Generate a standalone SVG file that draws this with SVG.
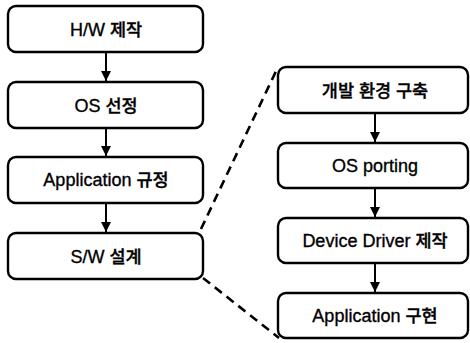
<svg xmlns="http://www.w3.org/2000/svg" width="470" height="343" viewBox="0 0 470 343">
<defs>
<style>
.box{fill:#fff;stroke:#000;stroke-width:2.4}
.lbl{font-family:"Liberation Sans","Noto Sans CJK KR",sans-serif;font-size:18px;fill:#000;stroke:#000;stroke-width:0.35;text-anchor:middle}
.ko{font-size:17.5px;font-weight:500}
.arr{stroke:#000;stroke-width:2;fill:none}
.dash{stroke:#000;stroke-width:2.6;fill:none;stroke-dasharray:9 6}
</style>
<marker id="ah" viewBox="0 0 10 10" refX="10" refY="5" markerWidth="10" markerHeight="10" markerUnits="userSpaceOnUse" orient="auto">
<path d="M0,0 L10,5 L0,10 z" fill="#000"/>
</marker>
</defs>
<rect width="470" height="343" fill="#fff"/>
<g id="connectors">
<line class="arr" x1="106" y1="53" x2="106" y2="81" marker-end="url(#ah)"/>
<line class="arr" x1="106" y1="129" x2="106" y2="156" marker-end="url(#ah)"/>
<line class="arr" x1="106" y1="204" x2="106" y2="232" marker-end="url(#ah)"/>
<line class="arr" x1="375" y1="114" x2="375" y2="142" marker-end="url(#ah)"/>
<line class="arr" x1="375" y1="189" x2="375" y2="217" marker-end="url(#ah)"/>
<line class="arr" x1="375" y1="264" x2="375" y2="292" marker-end="url(#ah)"/>
<line class="dash" x1="201" y1="229" x2="278" y2="67"/>
<line class="dash" x1="203" y1="278" x2="279" y2="338"/>
</g>
<g id="n1"><rect class="box" x="8" y="6" width="195" height="46" rx="8"/><text class="lbl" x="106" y="36">H/W <tspan class="ko">제작</tspan></text></g>
<g id="n2"><rect class="box" x="8" y="82" width="195" height="46" rx="8"/><text class="lbl" x="106" y="112">OS <tspan class="ko">선정</tspan></text></g>
<g id="n3"><rect class="box" x="8" y="157" width="195" height="46" rx="8"/><text class="lbl" x="106" y="186">Application <tspan class="ko">규정</tspan></text></g>
<g id="n4"><rect class="box" x="8" y="233" width="195" height="46" rx="8"/><text class="lbl" x="106" y="263">S/W  <tspan class="ko">설계</tspan></text></g>
<g id="m1"><rect class="box" x="278" y="67" width="190" height="46" rx="8"/><text class="lbl ko" x="375" y="97">개발 환경 구축</text></g>
<g id="m2"><rect class="box" x="278" y="143" width="190" height="45" rx="8"/><text class="lbl" x="375" y="172">OS porting</text></g>
<g id="m3"><rect class="box" x="278" y="218" width="190" height="45" rx="8"/><text class="lbl" x="375" y="247">Device Driver <tspan class="ko">제작</tspan></text></g>
<g id="m4"><rect class="box" x="278" y="293" width="190" height="45" rx="8"/><text class="lbl" x="375" y="322">Application <tspan class="ko">구현</tspan></text></g>
</svg>
